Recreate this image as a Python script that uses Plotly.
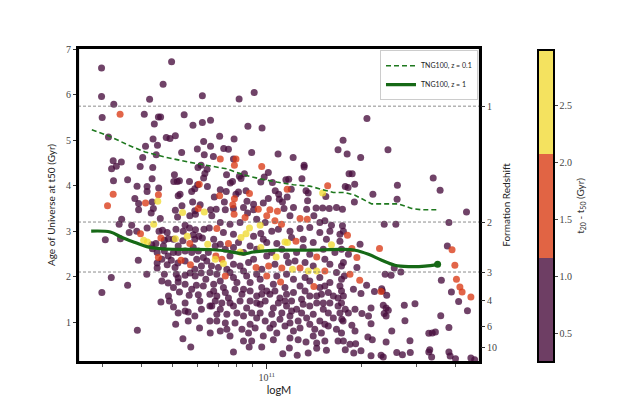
import plotly.graph_objects as go

# ---------------- data (logM, age of universe at t50 [Gyr]) ----------------
# points binned by t20 - t50 (Gyr): purple 0.25-1.16, orange 1.16-2.07, yellow 2.07-2.99
purple_upper_left = [(10.474,6.59),(10.697,6.73),(10.670,6.23),(10.474,5.96),(10.513,5.79),(10.627,5.90),(10.795,5.98),(10.476,5.50),(10.610,5.57),(10.655,5.51),(10.662,5.51),(10.737,5.56),(10.821,5.44),(10.642,5.36),(10.765,5.33),(10.795,5.39),(10.496,5.07),(10.638,5.03),(10.680,5.06),(10.692,5.04),(10.709,5.10),(10.799,4.97),(10.652,4.89),(10.614,4.87),(10.779,4.81),(10.821,4.87),(10.729,4.73),(10.648,4.68),(10.801,4.68),(10.605,4.62),(10.511,4.55),(10.537,4.52),(10.521,4.43),(10.506,4.37),(10.597,4.42),(10.637,4.40),(10.781,4.40),(10.791,4.45),(10.810,4.36),(10.706,4.24),(10.803,4.27),(10.799,4.17),(10.512,4.11),(10.557,4.13),(10.635,4.15),(10.704,4.09),(10.715,4.09),(10.722,4.11),(10.754,4.09),(10.780,4.02),(10.587,3.99),(10.619,3.98),(10.619,3.87),(10.656,3.95),(10.580,3.72),(10.718,3.78),(10.724,3.81),(10.761,3.87),(10.771,3.93),(10.811,3.98),(10.635,3.64),(10.764,3.64),(10.788,3.58),(10.730,3.56),(10.592,3.61)]
purple_upper_mid = [(10.960,6.05),(10.912,5.91),(10.940,5.31),(10.985,5.27),(10.850,5.09),(10.896,5.03),(10.863,4.82),(10.878,4.80),(10.952,4.73),(10.830,4.64),(10.894,4.59),(11.036,4.70),(11.084,4.62),(11.119,4.45),(11.119,4.41),(11.227,4.79),(10.872,4.24),(10.913,4.21),(10.918,4.16),(10.929,4.26),(11.005,4.29),(10.992,4.19),(10.981,4.08),(11.018,4.07),(11.061,4.13),(11.070,4.14),(11.112,4.15),(10.884,4.06),(10.891,4.09),(10.852,3.91),(10.871,3.87),(10.910,3.86),(10.902,3.81),(10.934,3.89),(11.027,3.89),(11.038,3.81),(11.078,3.92),(11.125,3.89),(11.132,3.84),(11.188,3.76),(10.833,3.75),(10.865,3.64),(10.937,3.66),(10.958,3.59),(10.989,3.62),(11.005,3.72),(11.040,3.70),(11.050,3.64),(11.065,3.75),(11.130,3.67),(11.178,3.51),(11.157,3.51)]
purple_upper_right = [(11.319,5.48),(11.243,5.00),(11.256,4.70),(11.299,4.62),(11.386,4.79),(11.262,4.26),(11.272,4.26),(11.250,3.98),(11.259,3.96),(11.280,4.03),(11.338,3.81),(11.416,4.01),(11.415,3.70),(11.530,4.17),(11.552,3.90),(11.279,3.64)]
purple_lower_left = [(10.592,3.47),(10.639,3.50),(10.632,3.40),(10.709,3.46),(10.716,3.31),(10.661,3.28),(10.538,3.26),(10.771,3.45),(10.821,3.47),(10.755,3.34),(10.773,3.37),(10.530,3.15),(10.570,3.13),(10.619,3.07),(10.657,3.00),(10.668,3.02),(10.683,2.97),(10.711,3.04),(10.740,3.13),(10.754,3.07),(10.734,3.00),(10.773,3.03),(10.800,3.04),(10.817,3.07),(10.766,2.92),(10.784,2.89),(10.562,2.97),(10.586,3.00),(10.534,2.83),(10.486,2.81),(10.687,2.83),(10.703,2.82),(10.674,2.80),(10.733,2.79),(10.771,2.82),(10.795,2.85),(10.634,2.70),(10.647,2.73),(10.718,2.67),(10.636,2.61),(10.651,2.53),(10.674,2.56),(10.703,2.53),(10.718,2.53),(10.686,2.45),(10.740,2.56),(10.761,2.53),(10.782,2.56),(10.814,2.53),(10.591,2.36),(10.651,2.30),(10.683,2.26),(10.666,2.38),(10.696,2.36),(10.717,2.30),(10.740,2.34),(10.777,2.38),(10.792,2.23),(10.809,2.34),(10.824,2.23),(10.651,2.19),(10.618,2.05),(10.674,2.05),(10.712,2.05),(10.718,1.97),(10.740,2.03),(10.756,2.08),(10.772,2.01),(10.791,2.08),(10.806,1.94),(10.505,1.98),(10.557,1.81),(10.686,1.86),(10.718,1.88),(10.740,1.83),(10.776,1.81),(10.475,1.65),(10.722,1.66),(10.753,1.59),(10.782,1.60),(10.663,1.44),(10.690,1.46),(10.703,1.33),(10.718,1.20),(10.740,1.24),(10.750,1.22),(10.792,1.28),(10.750,1.02),(10.710,0.95),(10.786,0.87),(10.819,1.02),(10.588,0.82),(10.733,0.63),(10.758,0.45)]
purple_lower_left_fill = [(10.671,2.67),(10.766,2.64),(10.798,2.42),(10.708,2.20),(10.771,2.16),(10.819,2.09),(10.666,1.90),(10.703,1.76),(10.761,1.72),(10.798,1.79),(10.819,1.61),(10.740,1.42),(10.787,1.46),(10.819,1.35),(10.771,1.13),(10.687,1.57)]
purple_lower_mid = [(10.825,3.34),(10.839,3.48),(10.868,3.47),(10.894,3.50),(10.926,3.52),(10.939,3.40),(10.958,3.47),(11.055,3.50),(11.085,3.52),(11.127,3.48),(11.199,3.50),(11.222,3.52),(11.241,3.48),(11.074,3.34),(11.150,3.34),(11.169,3.19),(11.185,3.23),(11.206,3.13),(11.241,3.12),(10.852,3.19),(10.883,3.15),(10.995,3.19),(10.968,3.26),(10.915,3.19),(10.862,2.97),(10.894,2.93),(10.958,2.89),(10.981,2.95),(11.016,3.00),(11.037,3.04),(11.074,3.00),(11.106,3.06),(11.137,3.08),(11.169,2.97),(11.201,3.00),(11.233,2.93),(10.831,2.82),(10.852,2.71),(11.116,2.82),(11.148,2.75),(11.233,2.78),(11.000,2.75),(11.032,2.73),(10.947,2.67),(10.894,2.64),(11.137,2.49),(11.095,2.53),(11.063,2.45),(11.000,2.45),(10.958,2.38),(10.883,2.45),(10.894,2.27),(10.841,2.05),(10.926,2.12),(10.936,2.01),(11.222,2.09),(11.201,1.87),(11.085,1.94),(11.122,1.98),(11.058,1.76),(11.021,1.83),(10.984,1.76),(10.947,1.87),(10.905,1.87),(10.862,1.76),(10.831,1.83),(10.841,1.57),(10.878,1.53),(10.921,1.61),(10.968,1.57),(11.010,1.61),(11.042,1.53),(11.085,1.65),(11.111,1.50),(11.137,1.57),(11.174,1.61),(11.212,1.57),(11.238,1.68),(10.825,1.35),(10.852,1.28),(10.894,1.35),(10.936,1.31),(10.979,1.39),(11.021,1.31),(11.063,1.35),(11.095,1.28),(11.137,1.35),(11.180,1.28),(11.227,1.35),(10.841,1.02),(10.899,0.98),(10.926,1.13),(10.968,1.09),(10.995,1.02),(11.042,1.06),(11.074,1.13),(11.100,1.02),(11.127,1.09),(11.169,1.02),(11.212,1.09),(11.243,1.02),(10.820,0.76),(10.873,0.84),(10.921,0.84),(10.963,0.87),(11.010,0.87),(11.058,0.91),(11.106,0.87),(11.153,0.84),(11.196,0.91),(10.952,0.58),(11.074,0.65),(11.125,0.56),(11.185,0.58),(11.227,0.58),(10.894,0.34),(10.944,0.45),(10.984,0.45),(11.051,0.30),(11.072,0.43),(11.097,0.27),(11.132,0.32),(11.159,0.42),(11.190,0.38)]
purple_lower_mid_fill = [(10.868,2.60),(10.926,2.53),(10.968,2.60),(11.016,2.53),(11.048,2.60),(11.116,2.64),(11.180,2.60),(11.217,2.53),(10.846,2.20),(10.942,2.31),(10.984,2.16),(11.026,2.27),(11.069,2.31),(11.122,2.31),(11.201,2.27),(11.238,2.23),(10.883,2.09),(10.968,2.05),(11.063,2.05),(11.169,1.98),(11.238,1.94),(10.926,1.72),(11.000,1.68),(11.106,1.79),(11.169,1.76),(11.233,1.79),(10.857,1.42),(10.947,1.46),(10.995,1.46),(11.079,1.46),(11.159,1.42),(11.201,1.42),(10.873,1.17),(10.952,1.20),(11.016,1.17),(11.111,1.20),(11.196,1.20),(10.883,0.69),(10.989,0.69),(11.032,0.76),(11.148,0.69),(11.238,0.76)]
purple_lower_mid_dense = [(10.836,2.67),(10.910,2.75),(10.989,2.82),(11.079,2.86),(11.190,2.82),(11.238,2.60),(10.873,2.16),(10.915,2.23),(11.090,2.34),(11.148,2.23),(11.185,2.38),(10.852,1.90),(10.894,1.98),(10.979,1.94),(11.032,2.01),(11.137,1.90),(11.185,1.79),(10.831,1.68),(10.868,1.65),(10.899,1.72),(10.947,1.68),(10.984,1.61),(11.026,1.68),(11.063,1.61),(11.122,1.68),(11.159,1.57),(11.196,1.65),(11.227,1.53),(10.836,1.46),(10.883,1.42),(10.915,1.46),(10.968,1.42),(11.037,1.42),(11.058,1.46),(11.116,1.39),(11.180,1.42),(11.238,1.42),(10.841,1.17),(10.905,1.20),(10.979,1.20),(11.048,1.20),(11.079,1.24),(11.148,1.17),(11.233,1.20),(10.868,0.98),(10.947,0.95),(11.021,0.95),(11.074,0.98),(11.137,0.95),(11.185,0.95),(10.852,0.80),(10.942,0.76),(11.085,0.80),(11.174,0.76),(11.222,0.84),(10.926,0.58),(11.021,0.61),(11.100,0.61),(11.159,0.54)]
purple_lower_right = [(11.636,3.42),(11.580,3.19),(11.374,3.15),(11.411,3.15),(11.244,3.00),(11.297,2.71),(11.575,2.67),(11.260,2.49),(11.287,2.20),(11.244,2.31),(11.406,2.19),(11.427,2.10),(11.377,2.05),(11.396,2.03),(11.247,2.01),(11.318,1.81),(11.556,1.92),(11.366,1.73),(11.368,1.68),(11.588,1.66),(11.276,1.72),(11.300,1.63),(11.343,1.67),(11.382,1.59),(11.611,1.45),(11.438,1.37),(11.472,1.40),(11.244,1.57),(11.250,1.28),(11.260,1.20),(11.281,1.28),(11.303,1.19),(11.332,1.31),(11.371,1.37),(11.380,1.31),(11.374,1.19),(11.380,1.13),(11.387,1.26),(11.324,1.13),(11.440,1.03),(11.554,1.14),(11.639,1.25),(11.239,1.06),(11.271,0.93),(11.332,0.96),(11.281,0.80),(11.398,0.80),(11.580,0.88),(11.516,0.75),(11.527,0.76),(11.537,0.78),(11.322,0.67),(11.336,0.61),(11.380,0.56),(11.456,0.59),(11.244,0.58),(11.265,0.51),(11.283,0.52),(11.250,0.39),(11.277,0.32),(11.300,0.37),(11.332,0.26),(11.364,0.27),(11.371,0.23),(11.414,0.33),(11.432,0.28),(11.457,0.33),(11.519,0.39),(11.516,0.34),(11.525,0.23),(11.580,0.34),(11.584,0.25),(11.601,0.19),(11.650,0.21),(11.662,0.17)]

orange_points = [(10.533,5.57),(10.785,4.03),(10.511,3.81),(10.655,3.80),(10.614,3.62),(10.493,3.56),(10.852,4.59),(10.902,4.59),(10.897,4.45),(10.984,4.42),(10.945,3.83),(11.065,3.92),(11.194,4.00),(10.850,3.78),(10.897,3.71),(10.892,3.58),(10.782,3.50),(10.598,2.94),(10.663,2.85),(10.755,2.73),(10.655,2.42),(10.727,2.36),(10.757,2.26),(10.896,3.37),(10.931,3.30),(10.973,3.48),(11.010,3.47),(11.034,3.44),(11.106,3.28),(11.129,3.26),(11.026,3.23),(11.047,3.15),(11.000,3.34),(10.841,3.06),(10.878,2.73),(11.093,2.78),(10.838,2.45),(10.857,2.38),(11.159,2.43),(10.966,2.20),(11.006,2.23),(11.048,2.19),(11.106,2.19),(11.185,2.12),(10.868,2.01),(11.000,2.01),(11.044,1.88),(11.150,1.78),(11.257,2.91),(11.271,2.62),(11.287,2.42),(11.359,2.62),(11.590,2.59),(11.599,2.25),(11.265,2.05),(11.296,1.92),(11.604,1.94),(11.364,1.67),(11.615,1.77),(11.622,1.66),(11.650,1.55)]
yellow_points = [(10.653,3.66),(11.178,3.84),(10.732,3.41),(10.801,3.42),(10.640,3.15),(10.608,2.80),(10.620,2.76),(10.709,2.83),(10.747,2.89),(10.812,2.71),(10.945,3.07),(10.979,3.13),(10.934,2.94),(10.918,2.86),(11.058,2.76),(11.066,2.75),(11.206,2.70),(10.981,2.64),(10.836,2.38),(10.862,2.29),(10.915,2.54),(11.030,2.43),(11.082,2.16),(11.132,2.12),(11.159,2.12)]

# TNG100 median relations
tng_z01_logm = [10.443,10.496,10.560,10.613,10.676,10.750,10.824,10.873,10.926,10.979,11.032,11.085,11.137,11.180,11.212,11.249,11.281,11.334,11.376,11.419,11.461,11.493,11.541]
tng_z01_age = [5.23,5.10,4.89,4.74,4.63,4.52,4.43,4.37,4.24,4.15,4.08,4.02,3.99,3.90,3.85,3.85,3.79,3.60,3.60,3.60,3.50,3.47,3.47]
tng_z1_logm = [10.441,10.502,10.539,10.581,10.618,10.666,10.718,10.830,10.883,10.926,10.958,11.032,11.137,11.239,11.281,11.324,11.366,11.408,11.451,11.504,11.544]
tng_z1_age = [3.00,2.98,2.86,2.75,2.66,2.61,2.60,2.59,2.55,2.50,2.54,2.58,2.58,2.60,2.58,2.49,2.36,2.25,2.22,2.23,2.27]

# formation redshift axis
z_ticks = ["1", "2", "3", "4", "6", "10"]
z_ages = [5.75, 3.20, 2.10, 1.48, 0.90, 0.44]
z_lines_ages = [5.75, 3.20, 2.10]

# colorbar bins (t20 - t50, Gyr)
cbar_min, cbar_max = 0.25, 2.99
cbar_ticks = [0.5, 1.0, 1.5, 2.0, 2.5]

# ---------------- figure ----------------
PURPLE = "rgb(72,14,62)"
ORANGE = "rgb(218,58,22)"
YELLOW = "rgb(240,218,50)"
CB_COLORS = ["rgb(110,62,100)", "rgb(225,100,68)", "rgb(244,226,95)"]

def split(pts):
    return [10 ** p[0] for p in pts], [p[1] for p in pts]

purple = (purple_upper_left + purple_upper_mid + purple_upper_right + purple_lower_left
          + purple_lower_left_fill + purple_lower_mid + purple_lower_mid_fill
          + purple_lower_mid_dense + purple_lower_right)

fig = go.Figure()
for pts, col in [(purple, PURPLE), (orange_points, ORANGE), (yellow_points, YELLOW)]:
    xs, ys = split(pts)
    fig.add_trace(go.Scatter(x=xs, y=ys, mode="markers", showlegend=False, hoverinfo="skip",
                             marker=dict(size=7, color=col, opacity=0.78, line=dict(width=0))))

fig.add_trace(go.Scatter(x=[10 ** v for v in tng_z01_logm], y=tng_z01_age, mode="lines",
                         name="TNG100, z = 0.1",
                         line=dict(color="rgb(30,120,30)", width=1.6, dash="5px,3px")))
fig.add_trace(go.Scatter(x=[10 ** v for v in tng_z1_logm], y=tng_z1_age, mode="lines",
                         name="TNG100, z = 1",
                         line=dict(color="rgb(22,105,22)", width=3.2, shape="spline")))
fig.add_trace(go.Scatter(x=[10 ** tng_z1_logm[-1]], y=[tng_z1_age[-1]], mode="markers",
                         showlegend=False, marker=dict(size=7, color="rgb(22,105,22)")))

# colorbar via invisible trace
n = len(CB_COLORS)
cs = []
for i, c in enumerate(CB_COLORS):
    cs.append([i / n, c]); cs.append([(i + 1) / n, c])
fig.add_trace(go.Scatter(x=[10 ** 11], y=[-5], mode="markers", showlegend=False, hoverinfo="skip",
                         marker=dict(color=[cbar_min], cmin=cbar_min, cmax=cbar_max, size=1,
                                     colorscale=cs, showscale=True,
                                     colorbar=dict(
                                         x=1.144, xanchor="left", xpad=0, ypad=0,
                                         y=0.497, yanchor="middle",
                                         len=312, lenmode="pixels", thickness=16,
                                         outlinewidth=2, outlinecolor="black",
                                         tickvals=cbar_ticks, ticktext=[f"{t:.1f}" for t in cbar_ticks],
                                         ticks="outside", ticklen=3,
                                         tickfont=dict(family="Liberation Serif", size=10, color="#444"),
                                         title=dict(text="t<sub>20</sub> - t<sub>50</sub> (Gyr)", side="right",
                                                    font=dict(family="Lato", size=10, color="#333"))))))
# secondary axis anchor trace
fig.add_trace(go.Scatter(x=[10 ** 11], y=[-5], yaxis="y2", mode="markers", showlegend=False,
                         hoverinfo="skip", marker=dict(size=1, opacity=0)))

for a in z_lines_ages:
    fig.add_shape(type="line", xref="paper", x0=0, x1=1, yref="y", y0=a, y1=a,
                  line=dict(color="#6f6f6f", width=0.8, dash="3px,2px"), layer="above")
# plot frame
fig.add_shape(type="rect", xref="paper", yref="paper", x0=0, x1=1, y0=0, y1=1,
              line=dict(color="black", width=2.2), fillcolor="rgba(0,0,0,0)", layer="above")

tickfont = dict(family="Liberation Serif", size=10, color="#444")
fig.update_layout(
    width=623, height=415,
    margin=dict(l=78, r=143, t=48, b=53, autoexpand=False),
    paper_bgcolor="white", plot_bgcolor="white",
    font=dict(family="Lato", size=10, color="#222"),
    xaxis=dict(type="log", range=[10.399, 11.679],
               tickvals=[1e11], ticktext=["10<sup>11</sup>"],
               ticks="outside", ticklen=5, tickwidth=1, tickcolor="#333",
               minor=dict(tickvals=[3e10, 4e10, 5e10, 6e10, 7e10, 8e10, 9e10, 2e11, 3e11, 4e11],
                          ticks="outside", ticklen=3, tickcolor="#555", showgrid=False),
               showgrid=False, zeroline=False, showline=True, linewidth=2.2, linecolor="black",
               mirror=True, tickfont=tickfont,
               title=dict(text="logM", font=dict(family="Lato", size=11, color="#222"), standoff=4)),
    yaxis=dict(range=[0.12, 7.03], tickvals=[1, 2, 3, 4, 5, 6, 7],
               ticks="outside", ticklen=3, tickcolor="#333",
               showgrid=False, zeroline=False, showline=True, linewidth=2.2, linecolor="black",
               mirror=True, tickfont=tickfont,
               title=dict(text="Age of Universe at t50 (Gyr)",
                          font=dict(family="Lato", size=10, color="#222"), standoff=8)),
    yaxis2=dict(overlaying="y", side="right", range=[0.12, 7.03],
                tickvals=z_ages, ticktext=z_ticks, ticks="outside", ticklen=4, tickcolor="#333",
                showgrid=False, zeroline=False, showline=False, tickfont=tickfont,
                title=dict(text="Formation Redshift", font=dict(family="Lato", size=10, color="#222"),
                           standoff=6)),
    legend=dict(x=0.995, y=0.993, xanchor="right", yanchor="top",
                bgcolor="rgba(255,255,255,0.9)", bordercolor="#ccc", borderwidth=1,
                font=dict(family="Lato", size=7, color="#222"),
                itemwidth=30, tracegroupgap=0),
)

fig.write_html("out.html", config={"displayModeBar": False},
               post_script="document.body.style.margin='0';document.body.style.overflow='hidden';")
